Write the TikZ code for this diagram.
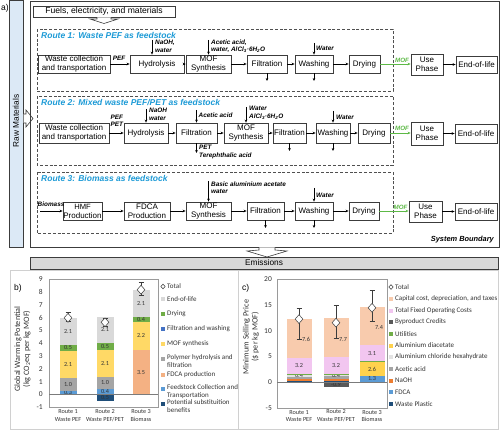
\documentclass[tikz,border=0pt]{standalone}
\usepackage{fontspec}
\setmainfont{Liberation Sans}
\newfontfamily\calfont{Carlito}
\usetikzlibrary{arrows.meta,shapes.geometric}
\definecolor{boxc}{HTML}{3C3C3C}
\definecolor{dashc}{HTML}{505050}
\definecolor{rblue}{HTML}{1C9AD6}
\definecolor{mofg}{HTML}{5DB946}
\definecolor{rawfill}{HTML}{DCE9F6}
\definecolor{emfill}{HTML}{D9D9D9}
\definecolor{panelc}{HTML}{D0D0D0}
\definecolor{framec}{HTML}{9A9A9A}
\definecolor{cEoL}{HTML}{D9D9D9}
\definecolor{cDry}{HTML}{70AD47}
\definecolor{cFW}{HTML}{4472C4}
\definecolor{cMOF}{HTML}{FFD966}
\definecolor{cPoly}{HTML}{A5A5A5}
\definecolor{cFDCAp}{HTML}{F4B183}
\definecolor{cFeed}{HTML}{5B9BD5}
\definecolor{cSub}{HTML}{1F4E79}
\definecolor{cCap}{HTML}{F8CBAD}
\definecolor{cFix}{HTML}{F2C6F0}
\definecolor{cByp}{HTML}{595959}
\definecolor{cUtil}{HTML}{70AD47}
\definecolor{cAld}{HTML}{FFD24D}
\definecolor{cAlc}{HTML}{E3E3E3}
\definecolor{cAce}{HTML}{A5A5A5}
\definecolor{cNaOH}{HTML}{ED7D31}
\definecolor{cFDCA}{HTML}{5B9BD5}
\definecolor{cWP}{HTML}{1F4E79}
\definecolor{txtc}{HTML}{333333}

\newcommand{\bx}[6]{\node[proc, minimum width={(#4-#2)*1pt}, minimum height={(#5-#3)*1pt}] (#1) at ({(#2+#4)/2},{(#3+#5)/2}) {#6};}
\newcommand{\seg}[6]{\fill[#5] ({#1-#2/2},#3) rectangle ({#1+#2/2},#4);
  \node[vallab] at (#1,{(#3+#4)/2}) {#6};}
\newcommand{\segn}[5]{\fill[#5] ({#1-#2/2},#3) rectangle ({#1+#2/2},#4);}
\newcommand{\tot}[4]{\draw[errc] (#1,#3) -- (#1,#4);
  \draw[errc] ({#1-2.5},#3) -- ({#1+2.5},#3);
  \draw[errc] ({#1-2.5},#4) -- ({#1+2.5},#4);
  \node[totd] at (#1,#2) {};}
\newcommand{\lgd}[4]{\fill[#3] ({#1-2},{#2-2}) rectangle ({#1+2},{#2+2});
  \node[legt, anchor=west] at ({#1+4},#2) {#4};}
\newcommand{\lgdd}[4]{\fill[#3] ({#1-2},{#2-2}) rectangle ({#1+2},{#2+2});
  \node[legt, anchor=north west, align=left] at ({#1+4},{#2-4.2}) {#4};}

\begin{document}
\begin{tikzpicture}[x=1pt,y=-1pt,
  proc/.style={draw=boxc, line width=0.75pt, fill=white, align=center, inner sep=0pt, font=\fontsize{8}{9}\selectfont},
  lab/.style={font=\fontsize{6.4}{7.5}\selectfont\bfseries\itshape, align=left, inner sep=0pt},
  arr/.style={-{Stealth[length=3pt,width=2.6pt]}, line width=0.55pt},
  garr/.style={-{Stealth[length=3pt,width=2.6pt]}, line width=0.6pt, draw=mofg},
  rbox/.style={draw=dashc, line width=0.8pt, dash pattern=on 3pt off 1.8pt},
  ttl/.style={font=\fontsize{8.5}{10}\selectfont\bfseries\itshape, text=rblue, anchor=west, inner sep=0pt},
  moflab/.style={font=\fontsize{6.2}{7}\selectfont\bfseries\itshape, text=mofg, inner sep=0pt},
  blockarr/.style={draw=boxc, fill=white, line width=0.6pt, line join=miter},
  vallab/.style={font=\calfont\fontsize{6.2}{7}\selectfont, text=txtc, inner sep=0pt},
  legt/.style={font=\calfont\fontsize{7}{8}\selectfont, text=txtc, inner sep=0pt},
  tick/.style={font=\calfont\fontsize{7.5}{8}\selectfont, text=txtc, inner sep=0pt, anchor=east},
  xlab/.style={font=\calfont\fontsize{6.2}{7.8}\selectfont, text=txtc, inner sep=0pt, align=center},
  ytitle/.style={font=\calfont\fontsize{8.2}{9}\selectfont, text=txtc, inner sep=0pt, align=center, rotate=90},
  errc/.style={draw=boxc, line width=0.5pt},
  totd/.style={diamond, draw=boxc, fill=white, line width=0.5pt, minimum width=8pt, minimum height=9pt, inner sep=0pt},
  plab/.style={font=\fontsize{8.5}{10}\selectfont, inner sep=0pt, anchor=west}
]
\useasboundingbox (0,0) rectangle (500,430);

% ---------------- top part ----------------
\node[plab] (pa) at (1,8) {a)};
\draw[boxc, fill=rawfill, line width=0.7pt] (9,0.5) rectangle (23,247);
\node[font=\fontsize{8.3}{9}\selectfont, rotate=90, inner sep=0pt] (raw) at (16,121) {Raw Materials};
\draw[blockarr] (23.5,114) -- (26,114) -- (26,110) -- (33,118.5) -- (26,127) -- (26,123) -- (23.5,123);

\draw[boxc, line width=0.8pt] (30,1) rectangle (499,247);
\node[font=\fontsize{7.4}{9}\selectfont\bfseries\itshape, anchor=east, inner sep=0pt] (sb) at (494,240) {System Boundary};

\node[draw=boxc, line width=0.75pt, fill=white, inner sep=0pt, minimum width=142pt, minimum height=11pt, font=\fontsize{8.6}{10}\selectfont] (fuel) at (104,11.5) {Fuels, electricity, and materials};
\draw[blockarr] (97,17.4) -- (97,19) -- (90,19) -- (104,23.5) -- (118,19) -- (111,19) -- (111,17.4);

% Route boxes
\draw[rbox] (37,29) rectangle (393,91);
\draw[rbox] (37,96) rectangle (393,165);
\draw[rbox] (37,172) rectangle (393,233);
\node[ttl] (t1) at (41,35) {Route 1: Waste PEF as feedstock};
\node[ttl] (t2) at (41,103) {Route 2: Mixed waste PEF/PET as feedstock};
\node[ttl] (t3) at (41,178) {Route 3: Biomass as feedstock};

% Route 1
\bx{w1}{38}{55}{110}{73}{Waste collection\\and transportation}
\bx{h1}{130}{55}{184}{73}{Hydrolysis}
\bx{m1}{186}{55}{231}{73}{MOF\\Synthesis}
\bx{f1}{247}{55}{287}{73}{Filtration}
\bx{wa1}{295}{55}{333}{73}{Washing}
\bx{d1}{349}{55}{380}{73}{Drying}
\bx{u1}{411}{54}{443}{75}{Use\\Phase}
\bx{e1}{456}{56}{497}{73}{End-of-life}
\draw[arr] (w1) -- (h1);
\draw[arr] (h1) -- (m1);
\draw[arr] (m1) -- (f1);
\draw[arr] (f1) -- (wa1);
\draw[arr] (wa1) -- (d1);
\draw[garr] (d1.east) -- (d1.east -| u1.west);
\draw[arr] (u1.east) -- (u1.east -| e1.west);
\node[lab] (pef1) at (119,58.5) {PEF};
\node[moflab] (mof1) at (402,60) {MOF};
\node[lab, anchor=north west] (l1a) at (155,40) {NaOH,\\water};
\coordinate (i1a) at (152,40);
\draw[arr] (i1a) -- (i1a |- h1.north);
\node[lab, anchor=north west] (l1b) at (211,39.5) {Acetic acid,\\water, AlCl\textsubscript{3}·6H\textsubscript{2}O};
\coordinate (i1b) at (208.5,40);
\draw[arr] (i1b) -- (i1b |- m1.north);
\node[lab, anchor=west] (l1c) at (316,48) {Water};
\coordinate (i1c) at (314,43);
\draw[arr] (i1c) -- (i1c |- wa1.north);
\coordinate (o1a) at (267,81);
\coordinate (o1b) at (314,81);
\draw[arr] (f1.south) -- (o1a);
\draw[arr] (wa1.south) -- (o1b);

% Route 2
\bx{w2}{39}{123}{109}{143}{Waste collection\\and transportation}
\bx{h2}{124}{123}{168}{143}{Hydrolysis}
\bx{fa2}{176}{123}{217}{143}{Filtration}
\bx{m2}{224}{123}{268}{143}{MOF\\Synthesis}
\bx{fb2}{273}{123}{306}{143}{Filtration}
\bx{wa2}{316}{123}{350}{143}{Washing}
\bx{d2}{358}{123}{390}{143}{Drying}
\bx{u2}{411}{122}{443}{145}{Use\\Phase}
\bx{e2}{455}{124}{497}{143}{End-of-life}
\draw[arr] (w2) -- (h2);
\draw[arr] (h2) -- (fa2);
\draw[arr] (fa2) -- (m2);
\draw[arr] (m2) -- (fb2);
\draw[arr] (fb2) -- (wa2);
\draw[arr] (wa2) -- (d2);
\draw[garr] (d2.east) -- (d2.east -| u2.west);
\draw[arr] (u2.east) -- (u2.east -| e2.west);
\node[lab, anchor=north west] (pef2) at (110.5,114.5) {PEF\\PET};
\node[moflab] (mof2) at (402,128) {MOF};
\node[lab, anchor=north west] (l2a) at (149,108) {NaOH\\water};
\coordinate (i2a) at (146,109);
\draw[arr] (i2a) -- (i2a |- h2.north);
\node[lab, anchor=west] (l2b) at (198.5,115) {Acetic acid};
\coordinate (i2b) at (196.5,110);
\draw[arr] (i2b) -- (i2b |- fa2.north);
\node[lab, anchor=north west] (l2c) at (249,106) {Water\\AlCl\textsubscript{3}·6H\textsubscript{2}O};
\coordinate (i2c) at (246,107);
\draw[arr] (i2c) -- (i2c |- m2.north);
\node[lab, anchor=west] (l2d) at (336,117) {Water};
\coordinate (i2d) at (333,111);
\draw[arr] (i2d) -- (i2d |- wa2.north);
\coordinate (o2a) at (196.5,153);
\draw[arr] (fa2.south) -- (o2a);
\node[lab, anchor=west] (pet2) at (199,147.5) {PET};
\node[lab, anchor=west] (tpa2) at (199,156) {Terephthalic acid};
\coordinate (o2b) at (289.5,151);
\coordinate (o2c) at (333,151);
\draw[arr] (fb2.south) -- (o2b);
\draw[arr] (wa2.south) -- (o2c);

% Route 3
\bx{hm3}{63}{202}{102}{220}{\fontsize{7.6}{9}\selectfont HMF\\Production}
\bx{fd3}{124}{202}{170}{220}{FDCA\\Production}
\bx{m3}{186}{202}{231}{220}{MOF\\Synthesis}
\bx{f3}{247}{202}{284}{220}{Filtration}
\bx{wa3}{295}{202}{333}{220}{Washing}
\bx{d3}{349}{202}{379}{220}{Drying}
\bx{u3}{409}{201}{442}{222}{Use\\Phase}
\bx{e3}{455}{203}{497}{220}{End-of-life}
\coordinate (bio) at (40,211);
\draw[arr] (bio) -- (bio -| hm3.west);
\node[lab, anchor=west] (biol) at (37.5,204.5) {Biomass};
\draw[arr] (hm3) -- (fd3);
\draw[arr] (fd3) -- (m3);
\draw[arr] (m3) -- (f3);
\draw[arr] (f3) -- (wa3);
\draw[arr] (wa3) -- (d3);
\draw[garr] (d3.east) -- (d3.east -| u3.west);
\draw[arr] (u3.east) -- (u3.east -| e3.west);
\node[moflab] (mof3) at (400.5,207) {MOF};
\node[lab, anchor=north west] (l3a) at (211,181.5) {Basic aluminium acetate\\water};
\coordinate (i3a) at (208.5,181);
\draw[arr] (i3a) -- (i3a |- m3.north);
\node[lab, anchor=west] (l3b) at (316,195) {Water};
\coordinate (i3b) at (314,188);
\draw[arr] (i3b) -- (i3b |- wa3.north);
\coordinate (o3a) at (265.5,228);
\coordinate (o3b) at (314,228);
\draw[arr] (f3.south) -- (o3a);
\draw[arr] (wa3.south) -- (o3b);

% Emissions
\draw[blockarr] (259,247.4) -- (259,250) -- (247,251) -- (267,257) -- (287,251) -- (275,250) -- (275,247.4);
\node[draw=boxc, fill=emfill, line width=0.7pt, minimum width=468pt, minimum height=12pt, inner sep=0pt, font=\fontsize{8.3}{9}\selectfont] (em) at (264,263) {Emissions};

% ---------------- panels ----------------
\draw[panelc, line width=0.6pt] (10,270) rectangle (238,429);
\draw[panelc, line width=0.6pt] (238,270) rectangle (498,429);
\node[plab] (pb) at (14,288) {b)};
\node[plab] (pc) at (242,288) {c)};

% chart b
\node[ytitle] (ytb) at (22.5,349) {Global Warming Potential\\(kg CO\textsubscript{2}eq per kg MOF)};
\begin{scope}[shift={(0,394.5)}, y=12.78pt]
  \draw[framec, line width=0.5pt] (49,-1) rectangle (158,9);
  \foreach \v in {-1,0,...,9} {\node[tick] at (43,\v) {\v};}
  % Route 1
  \seg{68}{17}{0}{0.3}{cFeed}{0.3}
  \seg{68}{17}{0.3}{1.3}{cPoly}{1.0}
  \seg{68}{17}{1.3}{3.4}{cMOF}{2.1}
  \seg{68}{17}{3.4}{3.9}{cDry}{0.5}
  \seg{68}{17}{3.9}{6.0}{cEoL}{2.1}
  % Route 2
  \seg{105}{17}{0}{-0.5}{cSub}{0.5}
  \seg{105}{17}{0}{0.4}{cFeed}{0.4}
  \seg{105}{17}{0.4}{1.4}{cPoly}{1.0}
  \seg{105}{17}{1.4}{3.5}{cMOF}{2.1}
  \seg{105}{17}{3.5}{4.0}{cDry}{0.5}
  \seg{105}{17}{4.0}{6.1}{cEoL}{2.1}
  % Route 3
  \seg{141}{17}{0}{3.5}{cFDCAp}{3.5}
  \seg{141}{17}{3.5}{5.7}{cMOF}{2.2}
  \seg{141}{17}{5.7}{6.1}{cDry}{0.4}
  \seg{141}{17}{6.1}{8.2}{cEoL}{2.1}
  \draw[draw=framec!80!black, line width=0.5pt] (49,0) -- (158,0);
  \tot{68}{6.0}{5.75}{6.4}
  \tot{105}{5.65}{5.35}{6.0}
  \tot{141}{8.2}{7.75}{8.75}
\end{scope}
\node[xlab] (xb1) at (68,415.5) {Route 1\\Waste PEF};
\node[xlab] (xb2) at (105,415.5) {Route 2\\Waste PEF/PET};
\node[xlab] (xb3) at (141,415.5) {Route 3\\Biomass};
% legend b
\node[totd, minimum width=4.5pt, minimum height=5pt] (lbt) at (163,286.5) {};
\node[legt, anchor=west] (lbtt) at (167,286.5) {Total};
\lgd{163}{299}{cEoL}{End-of-life}
\lgd{163}{314}{cDry}{Drying}
\lgd{163}{329}{cFW}{Filtration and washing}
\lgd{163}{344}{cMOF}{MOF synthesis}
\lgdd{163}{359}{cPoly}{Polymer hydrolysis and\\filtration}
\lgd{163}{374.5}{cFDCAp}{FDCA production}
\lgdd{163}{389}{cFeed}{Feedstock Collection and\\Transportation}
\lgdd{163}{404}{cSub}{Potential substituition\\benefits}

% chart c
\node[ytitle] (ytc) at (251,337) {Minimum Selling Price\\(\$ per kg MOF)};
\begin{scope}[shift={(0,382.3)}, y=5.14pt]
  \draw[framec, line width=0.5pt] (277,-5) rectangle (387,20);
  \foreach \v in {-5,0,5,10,15,20} {\node[tick] at (272,\v) {\v};}
  % Route 1
  \segn{299}{25}{0}{0.25}{cWP}
  \segn{299}{25}{0.25}{0.55}{cNaOH}
  \segn{299}{25}{0.55}{1.05}{cAce}
  \seg{299}{25}{1.05}{1.45}{cAlc}{0.4}
  \segn{299}{25}{1.45}{1.6}{cUtil}
  \seg{299}{25}{1.6}{4.8}{cFix}{3.2}
  \segn{299}{25}{4.8}{12.4}{cCap}
  % Route 2
  \seg{336}{25}{0}{-1.0}{cByp}{-0.9}
  \segn{336}{25}{0}{0.3}{cWP}
  \segn{336}{25}{0.3}{0.65}{cNaOH}
  \segn{336}{25}{0.65}{1.15}{cAce}
  \seg{336}{25}{1.15}{1.55}{cAlc}{0.4}
  \segn{336}{25}{1.55}{1.7}{cUtil}
  \seg{336}{25}{1.7}{4.9}{cFix}{3.2}
  \segn{336}{25}{4.9}{12.6}{cCap}
  % Route 3
  \seg{372}{25}{0}{1.3}{cFDCA}{1.3}
  \seg{372}{25}{1.3}{3.9}{cAld}{2.6}
  \segn{372}{25}{3.9}{4.15}{cUtil}
  \seg{372}{25}{4.15}{7.2}{cFix}{3.1}
  \segn{372}{25}{7.2}{14.6}{cCap}
  \draw[draw=framec!80!black, line width=0.5pt] (277,0) -- (387,0);
  \tot{299}{12.3}{8.4}{14.5}
  \tot{336}{11.6}{8.6}{15.0}
  \tot{372}{14.5}{11.8}{18.0}
  \node[vallab] at (306,8.4) {7.6};
  \node[vallab] at (343,8.3) {7.7};
  \node[vallab] at (379,10.7) {7.4};
\end{scope}
\node[xlab] (xc1) at (299,416) {Route 1\\Waste PEF};
\node[xlab] (xc2) at (336,416) {Route 2\\Waste PEF/PET};
\node[xlab] (xc3) at (372,416) {Route 3\\Biomass};
% legend c
\node[totd, minimum width=4.5pt, minimum height=5pt] (lct) at (391,287) {};
\node[legt, anchor=west] (lctt) at (395,287) {Total};
\lgd{391}{299}{cCap}{Capital cost, depreciation, and taxes}
\lgd{391}{310.5}{cFix}{Total Fixed Operating Costs}
\lgd{391}{322}{cByp}{Byproduct Credits}
\lgd{391}{334}{cUtil}{Utilities}
\lgd{391}{345.5}{cAld}{Aluminium diacetate}
\lgd{391}{357}{cAlc}{Aluminium chloride hexahydrate}
\lgd{391}{369}{cAce}{Acetic acid}
\lgd{391}{380.5}{cNaOH}{NaOH}
\lgd{391}{392}{cFDCA}{FDCA}
\lgd{391}{404}{cWP}{Waste Plastic}
\end{tikzpicture}
\end{document}
